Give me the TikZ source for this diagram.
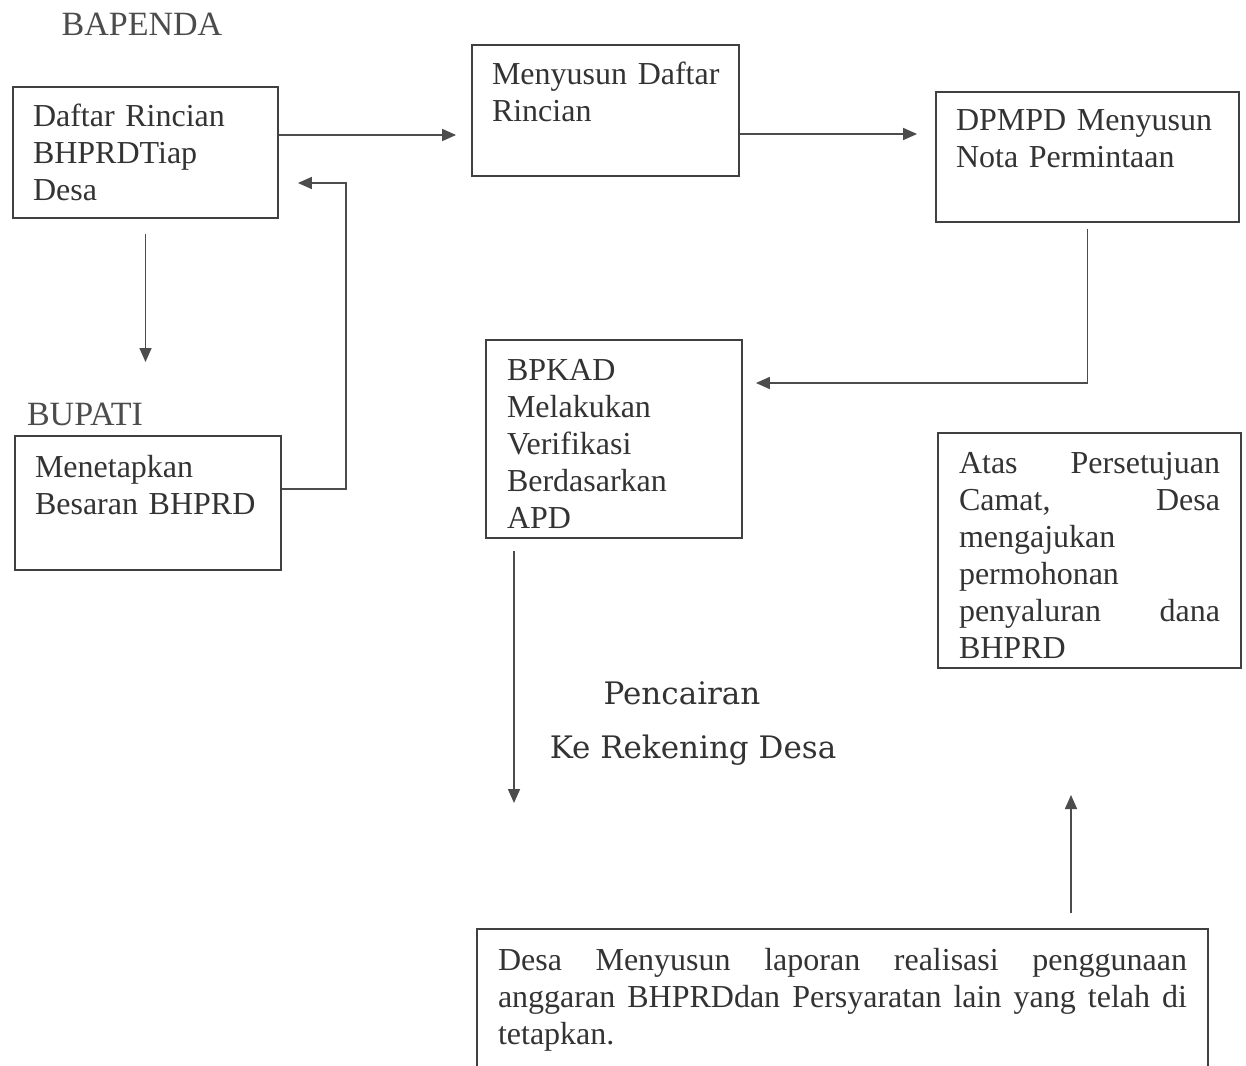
\documentclass[tikz,border=0pt]{standalone}
\usepackage{fontspec}
\setmainfont{Liberation Serif}
\newfontfamily\cairfont{DejaVu Serif}
\usetikzlibrary{arrows.meta,positioning}

\begin{document}
\begin{tikzpicture}[
    x=0.5pt, y=-0.5pt,
    box/.style={draw=black!75, line width=0.9pt, rectangle, inner xsep=10pt, inner ysep=4pt,
        align=left, font=\fontsize{16}{18.5}\selectfont, text=black!80},
    jbox/.style={box, align=justify},
    arr/.style={-{Triangle[length=7pt,width=6pt]}, draw=black!70, line width=0.8pt},
    lbl/.style={font=\fontsize{17}{19}\selectfont, text=black!70},
    cair/.style={font=\cairfont\fontsize{15.5}{17}\selectfont, text=black!80}
]
    \useasboundingbox (0,0) rectangle (1246,1065);

    % labels
    \node[lbl] (bapenda) at (142,24) {BAPENDA};
    \node[lbl] (bupati) at (85,414) {BUPATI};

    % boxes
    \node[box, text width=112.5pt, minimum height=65.5pt] (rincian) at (145.5,152.5) {Daftar Rincian\\ BHPRDTiap\\ Desa};
    \node[box, text width=113.5pt, minimum height=65.5pt] (susun) at (605.5,110.5) {\mbox{Menyusun Daftar}\\ Rincian\\ \mbox{}};
    \node[box, text width=131.5pt, minimum height=65pt] (nota) at (1087.5,157) {DPMPD Menyusun\\ Nota Permintaan\\ \mbox{}};
    \node[box, text width=107pt, inner xsep=10.5pt, minimum height=99pt] (verif) at (614,439) {BPKAD\\ Melakukan\\ Verifikasi\\ Berdasarkan\\ APD\par\vspace{-5pt}};
    \node[box, text width=113pt, minimum height=67pt] (tetap) at (148,503) {Menetapkan\\ Besaran BHPRD\\ \mbox{}};
    \node[jbox, text width=130.5pt, inner xsep=10.5pt, minimum height=117.5pt] (ajukan) at (1089.5,550.5)
        {Atas Persetujuan\linebreak Camat, Desa\linebreak mengajukan\newline permohonan\newline penyaluran dana\linebreak BHPRD\par\vspace{-5pt}};
    \node[jbox, text width=344.5pt, inner xsep=10.5pt, inner ysep=9.5pt, anchor=north] (laporan) at (842.5,928)
        {Desa Menyusun laporan realisasi penggunaan\linebreak anggaran BHPRDdan Persyaratan lain yang telah di\linebreak tetapkan.\newline\mbox{}};

    % text beside the payout arrow
    \node[cair] (cair1) at (682,693) {Pencairan};
    \node[cair] (cair2) at (693,750) {Ke Rekening Desa};

    % free ends
    \coordinate (turun) at (145.5,362);
    \coordinate (rekening) at (514,803);
    \coordinate (naik) at (1071,795);

    % connectors
    \draw[arr, shorten >=7.5pt] ([yshift=8.75pt]rincian.east) -- ([yshift=8.75pt]rincian.east -| susun.west);
    \draw[arr, shorten >=9pt] ([yshift=-11.75pt]susun.east) -- ([yshift=-11.75pt]susun.east -| nota.west);
    \draw[arr, shorten <=3pt, shorten >=6.5pt] (nota.south) |- ([yshift=28pt]verif.east);
    \draw[arr, shorten <=6pt] (verif.south -| rekening) -- (rekening);
    \draw[arr, shorten <=7.5pt] (laporan.north -| naik) -- (naik);
    \draw[arr, shorten <=7.5pt] (rincian.south) -- (turun);
    \draw[arr, shorten >=9.5pt] ([yshift=7pt]tetap.east) -- ++(64,0) |- ([yshift=-15.25pt]rincian.east);
\end{tikzpicture}
\end{document}
